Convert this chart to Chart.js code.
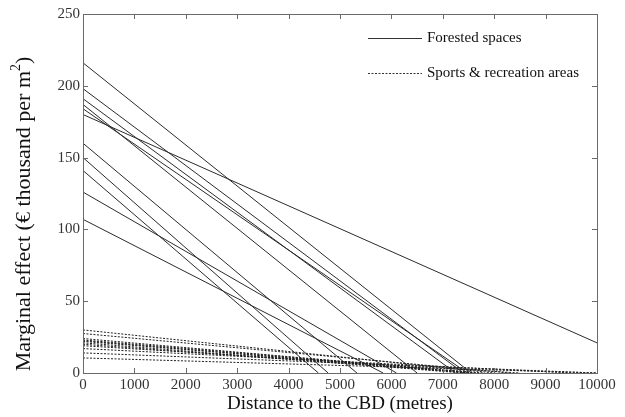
<!DOCTYPE html>
<html>
<head>
<meta charset="utf-8">
<script src="https://cdn.jsdelivr.net/npm/chart.js@4/dist/chart.umd.min.js"></script>
<style>
  html, body { margin: 0; padding: 0; background: #fff; }
  #wrap { width: 625px; height: 417px; }
</style>
</head>
<body>
<div id="wrap"><canvas id="chart" width="625" height="417"></canvas></div>
<script>
// forested spaces: value at 0 m, and where each line ends
const forestStart = [216, 198, 191, 187, 184, 180, 160, 150, 141, 126, 107];
const forestEndX  = [7550, 7400, 7250, 6500, 7480, 10000, 5330, 4770, 4580, 6100, 5840];
const forestEndY  = [0, 0, 0, 0, 0, 21, 0, 0, 0, 0, 0];

// sports & recreation areas
const sportStart = [30, 27.5, 24, 23, 22.5, 22, 21, 20, 19, 17, 14, 10.5];
const sportEndX  = [8000, 8300, 7600, 7800, 7500, 7700, 7400, 7600, 8500, 9500, 10000, 10000];

const xTicks = [0, 1000, 2000, 3000, 4000, 5000, 6000, 7000, 8000, 9000, 10000];
const yTicks = [0, 50, 100, 150, 200, 250];

const legendLabels = ["Forested spaces", "Sports & recreation areas"];
const serif = "'Liberation Serif', 'DejaVu Serif', serif";

let datasets = [];
forestStart.forEach((y0, i) => {
  datasets.push({
    data: [{x: 0, y: y0}, {x: forestEndX[i], y: forestEndY[i]}],
    borderColor: "#2b2b2b",
    borderWidth: 1,
  });
});
sportStart.forEach((y0, i) => {
  datasets.push({
    data: [{x: 0, y: y0}, {x: sportEndX[i], y: 0}],
    borderColor: "#1e1e1e",
    borderWidth: 1,
    borderDash: [2, 1.5],
  });
});

// box, inward ticks, legend and axis titles
const framePlugin = {
  id: "frame",
  afterDraw(chart) {
    const c = chart.ctx;
    const a = chart.chartArea;
    const xs = chart.scales.x, ys = chart.scales.y;
    c.save();
    c.strokeStyle = "#6a6a6a";
    c.lineWidth = 1;
    c.strokeRect(a.left + 0.5, a.top + 0.5, a.right - a.left, a.bottom - a.top);
    c.beginPath();
    xTicks.forEach(v => {
      const px = Math.round(xs.getPixelForValue(v)) + 0.5;
      c.moveTo(px, a.bottom); c.lineTo(px, a.bottom - 5);
      c.moveTo(px, a.top); c.lineTo(px, a.top + 5);
    });
    yTicks.forEach(v => {
      const py = Math.round(ys.getPixelForValue(v)) + 0.5;
      c.moveTo(a.left, py); c.lineTo(a.left + 5, py);
      c.moveTo(a.right, py); c.lineTo(a.right - 5, py);
    });
    c.stroke();

    // legend
    c.fillStyle = "#111";
    c.font = "15px " + serif;
    c.textBaseline = "middle";
    c.textAlign = "left";
    const rows = [38, 73];
    legendLabels.forEach((lab, i) => {
      c.beginPath();
      c.strokeStyle = "#333";
      c.setLineDash(i === 0 ? [] : [2, 1.5]);
      c.moveTo(368, rows[i] + 0.5); c.lineTo(422, rows[i] + 0.5);
      c.stroke();
      c.fillText(lab, 427, rows[i]);
    });
    c.setLineDash([]);

    // x title
    c.font = "19px " + serif;
    c.textAlign = "center";
    c.fillText("Distance to the CBD (metres)", (a.left + a.right) / 2, 404);

    // y title with superscript
    c.translate(24, 214);
    c.rotate(-Math.PI / 2);
    const main = "Marginal effect (\u20ac thousand per m";
    c.font = "22px " + serif;
    const w1 = c.measureText(main).width;
    c.font = "14px " + serif;
    const w2 = c.measureText("2").width;
    c.font = "22px " + serif;
    const w3 = c.measureText(")").width;
    let x0 = -(w1 + w2 + w3) / 2;
    c.textAlign = "left";
    c.fillText(main, x0, 0);
    c.font = "14px " + serif;
    c.fillText("2", x0 + w1, -8);
    c.font = "22px " + serif;
    c.fillText(")", x0 + w1 + w2, 0);
    c.restore();
  }
};

new Chart(document.getElementById("chart"), {
  type: "scatter",
  data: { datasets: datasets },
  options: {
    responsive: false,
    animation: false,
    showLine: true,
    elements: { point: { radius: 0 }, line: { tension: 0 } },
    layout: { padding: { top: 14, right: 28, left: 0, bottom: 0 } },
    plugins: { legend: { display: false }, tooltip: { enabled: false } },
    scales: {
      x: {
        type: "linear",
        min: 0,
        max: 10000,
        afterBuildTicks: (s) => { s.ticks = xTicks.map(v => ({value: v})); },
        afterFit: (s) => { s.height = 44; },
        grid: { display: false, drawTicks: false },
        border: { display: false },
        ticks: { color: "#333", padding: 3, maxRotation: 0, autoSkip: false,
                 font: { family: serif, size: 15 }, callback: (v) => String(v) },
      },
      y: {
        min: 0,
        max: 250,
        afterBuildTicks: (s) => { s.ticks = yTicks.map(v => ({value: v})); },
        afterFit: (s) => { s.width = 83; },
        grid: { display: false, drawTicks: false },
        border: { display: false },
        ticks: { color: "#333", padding: 3, font: { family: serif, size: 15 },
                 callback: (v) => String(v) },
      },
    },
  },
  plugins: [framePlugin],
});
</script>
</body>
</html>
